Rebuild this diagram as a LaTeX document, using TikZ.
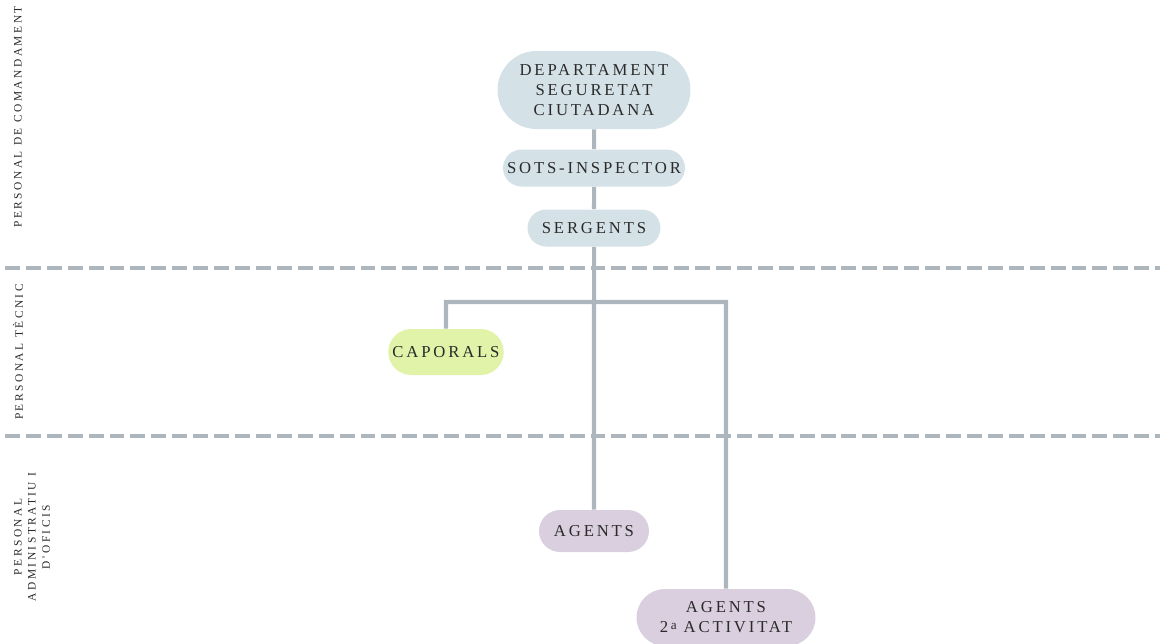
\documentclass[tikz,border=0pt]{standalone}
\usepackage{fontspec}
\setmainfont{Liberation Serif}
\newfontfamily\boxfont{Liberation Serif}[LetterSpace=17]
\newfontfamily\sidefont{Liberation Serif}[LetterSpace=22]
\usepackage{xcolor}
\usetikzlibrary{positioning,shapes.misc}
\definecolor{bluebox}{HTML}{D4E2E7}
\definecolor{greenbox}{HTML}{E0F3A8}
\definecolor{purplebox}{HTML}{D9CFDE}
\definecolor{linkgray}{HTML}{ADB6BC}
\definecolor{inkgray}{HTML}{2A2A2A}

\begin{document}
\begin{tikzpicture}[on grid, node distance=1.2cm,
    unit/.style={rounded rectangle, draw=none, text=inkgray, align=center,
        font=\boxfont\fontsize{9.5}{11.4}\selectfont, inner sep=2pt},
    blueunit/.style={unit, fill=bluebox},
    greenunit/.style={unit, fill=greenbox},
    purpleunit/.style={unit, fill=purplebox},
    link/.style={draw=linkgray, line width=2.3pt},
    band/.style={draw=linkgray, line width=2.3pt, dash pattern=on 8.5pt off 3.4pt},
    side/.style={rotate=90, text=inkgray, align=center,
        font=\sidefont\fontsize{6.5}{8}\selectfont}]

    \useasboundingbox (0,0) rectangle (23.24,-12.86);

    % bands
    \draw[band] (0.1,-5.36) -- (23.2,-5.36);
    \draw[band] (0.1,-8.72) -- (23.2,-8.72);

    \node[side] (lcom) at (0.36,-2.34) {PERSONAL DE COMANDAMENT};
    \node[side] (ltec) at (0.36,-7.04) {PERSONAL TÈCNIC};
    \node[side] (ladm) at (0.64,-10.74) {PERSONAL\\ADMINISTRATIU I\\D'OFICIS};

    % units
    \node[blueunit, minimum width=4cm, minimum height=1.56cm] (dept) at (11.88,-1.8)
        {DEPARTAMENT\\SEGURETAT\\CIUTADANA};
    \node[blueunit, minimum width=3.78cm, minimum height=0.74cm] (sots) [below=1.56cm of dept]
        {SOTS-INSPECTOR};
    \node[blueunit, minimum width=2.8cm, minimum height=0.74cm] (serg) [below=of sots]
        {SERGENTS};
    \node[greenunit, minimum width=2.26cm, minimum height=0.92cm] (caporals) at (8.92,-7.04)
        {CAPORALS};
    \node[purpleunit, minimum width=2.34cm, minimum height=0.84cm] (agents) at (11.88,-10.62)
        {AGENTS};
    \node[purpleunit, minimum width=3.72cm, minimum height=1.14cm] (agents2) at (14.52,-12.35)
        {AGENTS\\2\hspace{1.5pt}\raisebox{0.5ex}{\fontsize{7.5}{7.5}\selectfont a} ACTIVITAT};

    \coordinate (split) at (11.88,-6.04);

    \path[link]
        (dept) -- (sots)
        (sots) -- (serg)
        (serg) -- (agents)
        (caporals.north) |- (split) -| (agents2.north);

\end{tikzpicture}
\end{document}
